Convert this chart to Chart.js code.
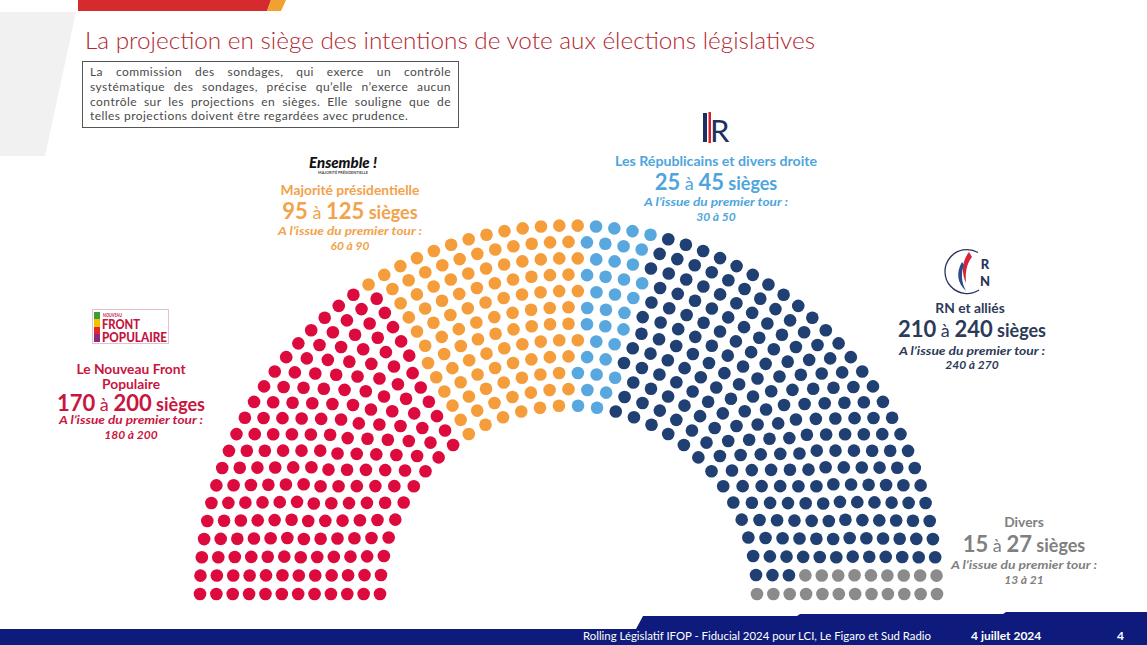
<!DOCTYPE html>
<html lang="fr">
<head>
<meta charset="utf-8">
<title>Projection en sièges - législatives</title>
<script src="https://cdn.jsdelivr.net/npm/chart.js@4.4.1/dist/chart.umd.min.js"></script>
<style>
  html, body { margin: 0; padding: 0; }
  body { width: 1147px; height: 645px; position: relative; overflow: hidden; background: #fff; font-family: Lato, 'Noto Sans', sans-serif; }
  #deco { position: absolute; left: 0; top: 0; }
  #hemi { position: absolute; left: 190px; top: 216px; width: 757px; height: 390px; }
  #note { position: absolute; left: 82px; top: 61px; width: 361px; height: 62px; border: 1px solid #555; padding: 3px 7px 0 7px; font-size: 12px; line-height: 14.8px; color: #4a4a4a; letter-spacing: 0.45px; }
  #note div { text-align: justify; text-align-last: justify; white-space: nowrap; }
  #note div.last { text-align-last: left; }
</style>
</head>
<body>

<svg id="deco" width="1147" height="645" viewBox="0 0 1147 645" font-family="Lato, 'Noto Sans', sans-serif">
  <polygon points="0,12 76,12 45,156 0,156" fill="#f1f1f1"/>
  <polygon points="78,0 271,0 267,11 78,11" fill="#d52b2e"/>
  <polygon points="271,0 286,0 281,11 267,11" fill="#f0a12e"/>
  <text x="85" y="49" font-size="22.5" font-weight="300" fill="#b3272f" textLength="730" lengthAdjust="spacingAndGlyphs">La projection en siège des intentions de vote aux élections législatives</text>

  <!-- NFP -->
  <rect x="92.5" y="309.5" width="76" height="34" fill="#fff" stroke="#e8c0cc"/>
  <rect x="94" y="312" width="6" height="7" fill="#3a9e3a"/>
  <rect x="94" y="319" width="6" height="8" fill="#f2c200"/>
  <rect x="94" y="327" width="6" height="7" fill="#e2262c"/>
  <rect x="94" y="334" width="6" height="8" fill="#8c2a80"/>
  <text x="103" y="317" font-size="5" font-weight="700" fill="#c4133f" textLength="19" lengthAdjust="spacingAndGlyphs">NOUVEAU</text>
  <text x="102" y="329" font-size="13" font-weight="900" fill="#c4133f" textLength="38" lengthAdjust="spacingAndGlyphs">FRONT</text>
  <text x="102" y="342" font-size="13" font-weight="900" fill="#c4133f" textLength="65" lengthAdjust="spacingAndGlyphs">POPULAIRE</text>
  <g fill="#c8163f" text-anchor="middle">
    <text x="131" y="374" font-size="13.8" font-weight="700">Le Nouveau Front</text>
    <text x="131" y="389" font-size="13.8" font-weight="700">Populaire</text>
    <text x="131" y="411" font-weight="700"><tspan font-size="22">170</tspan><tspan font-size="18" font-weight="400"> à </tspan><tspan font-size="22">200</tspan><tspan font-size="18"> sièges</tspan></text>
    <text x="131" y="424" font-size="12" font-weight="700" font-style="italic" textLength="144" lengthAdjust="spacingAndGlyphs">A l’issue du premier tour :</text>
    <text x="131" y="439" font-size="12" font-weight="700" font-style="italic">180 à 200</text>
  </g>

  <!-- Ensemble -->
  <g text-anchor="middle">
    <text x="343" y="168" font-size="15" font-weight="900" font-style="italic" fill="#111">Ensemble !</text>
    <text x="343" y="174" font-size="3.8" font-weight="700" fill="#444">MAJORITÉ PRÉSIDENTIELLE</text>
  </g>
  <g fill="#f2a24a" text-anchor="middle">
    <text x="350" y="195" font-size="13.8" font-weight="700">Majorité présidentielle</text>
    <text x="350" y="219" font-weight="700"><tspan font-size="22">95</tspan><tspan font-size="18" font-weight="400"> à </tspan><tspan font-size="22">125</tspan><tspan font-size="18"> sièges</tspan></text>
    <text x="350" y="235" font-size="12" font-weight="700" font-style="italic" textLength="144" lengthAdjust="spacingAndGlyphs">A l’issue du premier tour :</text>
    <text x="350" y="250" font-size="12" font-weight="700" font-style="italic">60 à 90</text>
  </g>

  <!-- LR -->
  <rect x="703" y="113" width="4" height="29" fill="#1d2f5e"/>
  <rect x="708.5" y="112" width="2.5" height="31" fill="#d3202e"/>
  <text x="710" y="142" font-size="31" font-weight="400" fill="#1d2f5e">R</text>
  <g fill="#4ea5dc" text-anchor="middle">
    <text x="716" y="166" font-size="14" font-weight="700" textLength="202" lengthAdjust="spacingAndGlyphs">Les Républicains et divers droite</text>
    <text x="716" y="190" font-weight="700"><tspan font-size="22">25</tspan><tspan font-size="18" font-weight="400"> à </tspan><tspan font-size="22">45</tspan><tspan font-size="18"> sièges</tspan></text>
    <text x="716" y="206" font-size="12" font-weight="700" font-style="italic" textLength="144" lengthAdjust="spacingAndGlyphs">A l’issue du premier tour :</text>
    <text x="716" y="221" font-size="12" font-weight="700" font-style="italic">30 à 50</text>
  </g>

  <!-- RN -->
  <path d="M978,252.5 A22,22 0 1 0 979,290" fill="none" stroke="#2a3558" stroke-width="1.3"/>
  <path d="M969,252 C962,261 961,272 966,283 C965,272 967,263 972,257 Z" fill="#d5233a"/>
  <path d="M962,262 C956,272 957,283 966,291 C961,282 961,272 964,265 Z" fill="#2a4a8c"/>
  <text x="985" y="269" font-size="13" font-weight="900" fill="#2a3558" text-anchor="middle">R</text>
  <text x="985" y="286" font-size="13" font-weight="900" fill="#2a3558" text-anchor="middle">N</text>
  <g fill="#2d3a58" text-anchor="middle">
    <text x="970" y="313" font-size="13.8" font-weight="700">RN et alliés</text>
    <text x="972" y="337" font-weight="700"><tspan font-size="22">210</tspan><tspan font-size="18" font-weight="400"> à </tspan><tspan font-size="22">240</tspan><tspan font-size="18"> sièges</tspan></text>
    <text x="972" y="355" font-size="12" font-weight="700" font-style="italic" textLength="146" lengthAdjust="spacingAndGlyphs">A l’issue du premier tour :</text>
    <text x="972" y="369" font-size="12" font-weight="700" font-style="italic">240 à 270</text>
  </g>

  <!-- Divers -->
  <g fill="#808080" text-anchor="middle">
    <text x="1024" y="527" font-size="13.8" font-weight="700">Divers</text>
    <text x="1024" y="552" font-weight="700"><tspan font-size="22">15</tspan><tspan font-size="18" font-weight="400"> à </tspan><tspan font-size="22">27</tspan><tspan font-size="18"> sièges</tspan></text>
    <text x="1024" y="569" font-size="12" font-weight="700" font-style="italic" textLength="146" lengthAdjust="spacingAndGlyphs">A l’issue du premier tour :</text>
    <text x="1024" y="584" font-size="12" font-weight="700" font-style="italic">13 à 21</text>
  </g>

  <!-- bandeau bas -->
  <path d="M0,645 L0,629 L636,629 L643,616 L797,616 L800,614 L1003,614 L1006,612 L1147,612 L1147,645 Z" fill="#0f1b7c"/>
  <text x="583" y="640" font-size="12" fill="#fff" textLength="348" lengthAdjust="spacingAndGlyphs">Rolling Législatif IFOP - Fiducial 2024 pour LCI, Le Figaro et Sud Radio</text>
  <text x="971" y="640" font-size="12" font-weight="700" fill="#fff">4 juillet 2024</text>
  <text x="1117" y="640" font-size="12" font-weight="700" fill="#fff">4</text>
</svg>

<div id="note">
  <div>La commission des sondages, qui exerce un contrôle</div>
  <div>systématique des sondages, précise qu’elle n’exerce aucun</div>
  <div>contrôle sur les projections en sièges. Elle souligne que de</div>
  <div class="last">telles projections doivent être regardées avec prudence.</div>
</div>

<div id="hemi"><canvas id="chart"></canvas></div>

<script>
// Projection : milieu de chaque fourchette
const partyNames = ['Le Nouveau Front Populaire', 'Majorité présidentielle', 'Les Républicains et divers droite', 'RN et alliés', 'Divers'];
const partySeats = [185, 110, 35, 225, 21];
const partyColors = ['#dc0a3d', '#f59d3b', '#58a8df', '#203f72', '#8b8b8b'];

// hémicycle : 12 rangs, rayon intérieur relatif au rayon extérieur
const ROWS = 12;
const INNER = 0.5115;

function buildSeats(total) {
    const radii = [];
    for (let k = 0; k < ROWS; k++) radii.push(INNER + k * (1 - INNER) / (ROWS - 1));
    const sumR = radii.reduce((a, b) => a + b, 0);

    // sièges par rang proportionnels au rayon
    const raw = radii.map(r => total * r / sumR);
    const counts = raw.map(Math.floor);
    const missing = total - counts.reduce((a, b) => a + b, 0);
    raw.map((v, i) => [v - Math.floor(v), i])
        .sort((a, b) => b[0] - a[0])
        .slice(0, missing)
        .forEach(([, i]) => counts[i]++);

    const seats = [];
    radii.forEach((r, k) => {
        for (let j = 0; j < counts[k]; j++) {
            seats.push({ a: Math.PI * j / (counts[k] - 1), r });
        }
    });
    // de gauche à droite
    seats.sort((p, q) => p.a - q.a || q.r - p.r);
    return seats;
}

const seats = buildSeats(partySeats.reduce((a, b) => a + b, 0));

let start = 0;
const datasets = partyNames.map((name, i) => {
    const part = seats.slice(start, start + partySeats[i]);
    start += partySeats[i];
    return {
        label: name,
        data: part.map(s => ({ x: -s.r * Math.cos(s.a), y: s.r * Math.sin(s.a) })),
        backgroundColor: partyColors[i],
        borderWidth: 0,
        pointRadius: 6.3,
        pointHoverRadius: 6.3,
        clip: false
    };
});

// rayon extérieur = 368.5 px dans un cadre de 757 x 390
const R_PX = 368.5;
new Chart(document.getElementById('chart'), {
    type: 'scatter',
    data: { datasets },
    options: {
        responsive: true,
        maintainAspectRatio: false,
        animation: false,
        layout: { padding: 0, autoPadding: false },
        plugins: {
            legend: { display: false },
            tooltip: { enabled: false }
        },
        scales: {
            x: { display: false, min: -378.5 / R_PX, max: 378.5 / R_PX },
            y: { display: false, min: -12 / R_PX, max: 378 / R_PX }
        }
    }
});
</script>
</body>
</html>
